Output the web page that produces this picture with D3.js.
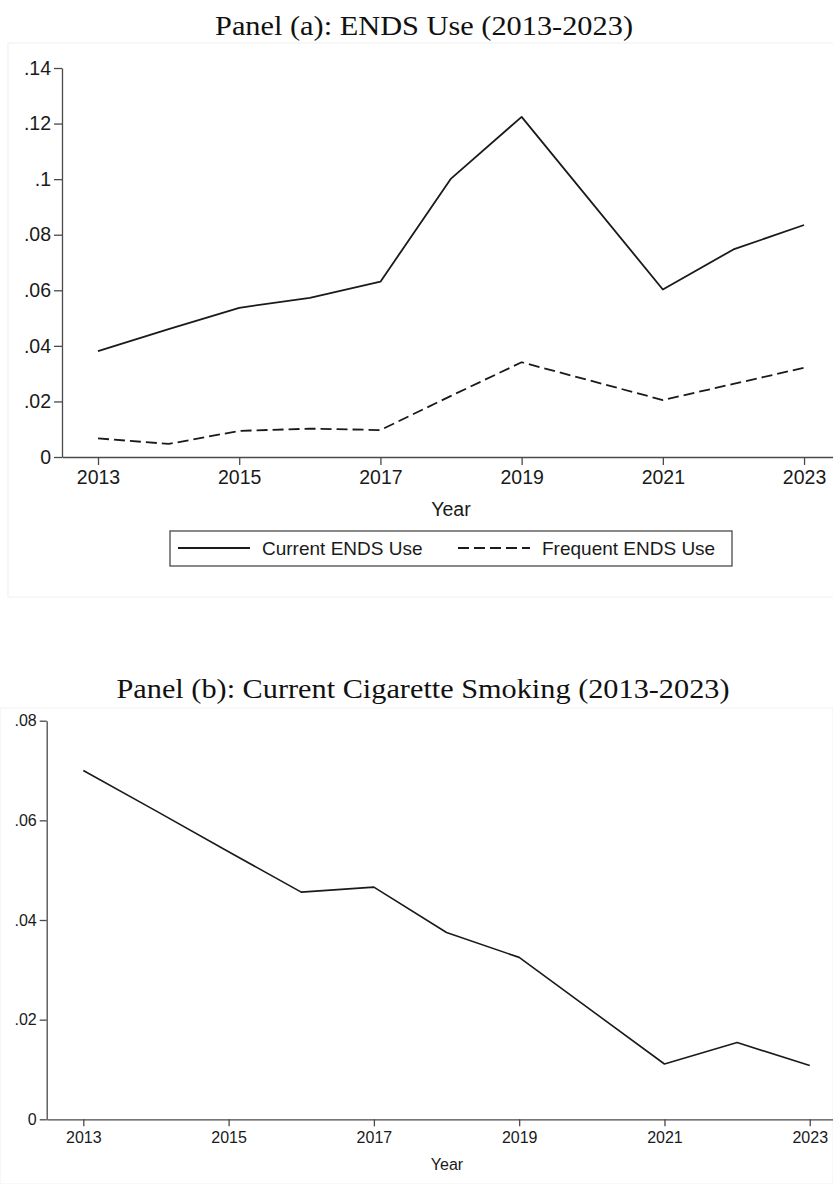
<!DOCTYPE html>
<html>
<head>
<meta charset="utf-8">
<script src="https://cdn.jsdelivr.net/npm/d3@7"></script>
<style>
    body { margin: 0; background: #fff; }
    .eje text { font-family: "Liberation Sans", Arial, sans-serif; fill: #1a1a1a; }
    .eje path, .eje line { stroke: #4a4a4a; stroke-width: 1.3; }
    .titulo { font-family: "Liberation Serif", "Times New Roman", serif; fill: #111; }
</style>
</head>
<body>
<div id="grafica"></div>
<script>
"use strict";

// Panel (a) datos
const anios_a = [2013, 2014, 2015, 2016, 2017, 2018, 2019, 2021, 2022, 2023];
const uso_actual_ends = [0.0381, 0.0460, 0.0537, 0.0573, 0.0631, 0.1002, 0.1224, 0.0603, 0.0747, 0.0835];
const uso_frecuente_ends = [0.0067, 0.0047, 0.0094, 0.0102, 0.0097, 0.0220, 0.0341, 0.0205, 0.0263, 0.0321];
const ticks_y_a = [0, 0.02, 0.04, 0.06, 0.08, 0.10, 0.12, 0.14];

// Panel (b) datos
const anios_b = [2013, 2014, 2015, 2016, 2017, 2018, 2019, 2021, 2022, 2023];
const cigarrillo_actual = [0.0700, 0.0619, 0.0537, 0.0456, 0.0466, 0.0375, 0.0325, 0.0111, 0.0154, 0.0108];
const ticks_y_b = [0, 0.02, 0.04, 0.06, 0.08];

const ticks_x = [2013, 2015, 2017, 2019, 2021, 2023];
const leyenda_a = ["Current ENDS Use", "Frequent ENDS Use"];

const W = 833, H = 1184;

// formato estilo Stata: .14, .1, 0
const fmtStata = (d) => d === 0 ? "0" : String(+d.toFixed(2)).replace(/^0/, "");

const svg = d3.select("#grafica").append("svg")
    .attr("width", W)
    .attr("height", H);

function panel(cfg) {
    // marco tenue
    svg.append("rect")
        .attr("x", cfg.marco[0]).attr("y", cfg.marco[1])
        .attr("width", cfg.marco[2]).attr("height", cfg.marco[3])
        .attr("fill", "none")
        .attr("stroke", "#f0f0f0");

    svg.append("text")
        .attr("class", "titulo")
        .attr("x", cfg.titulo_x)
        .attr("y", cfg.titulo_y)
        .attr("text-anchor", "middle")
        .attr("textLength", cfg.titulo_len)
        .attr("lengthAdjust", "spacingAndGlyphs")
        .style("font-size", cfg.titulo_size + "px")
        .text(cfg.titulo);

    let x = d3.scaleLinear().domain(cfg.dom_x).range(cfg.rango_x);
    let y = d3.scaleLinear().domain(cfg.dom_y).range(cfg.rango_y);

    svg.append("g")
        .attr("class", "eje")
        .attr("transform", "translate(0," + cfg.rango_y[0] + ")")
        .call(d3.axisBottom(x).tickValues(ticks_x).tickFormat(d3.format("d"))
            .tickSize(cfg.tick).tickSizeOuter(0).tickPadding(cfg.pad_x))
        .selectAll("text").style("font-size", cfg.fuente + "px");

    svg.append("g")
        .attr("class", "eje")
        .attr("transform", "translate(" + cfg.rango_x[0] + ",0)")
        .call(d3.axisLeft(y).tickValues(cfg.ticks_y).tickFormat(fmtStata)
            .tickSize(cfg.tick).tickSizeOuter(0).tickPadding(3))
        .selectAll("text").style("font-size", cfg.fuente + "px");

    svg.append("text")
        .attr("class", "eje")
        .attr("x", cfg.year_x)
        .attr("y", cfg.year_y)
        .attr("text-anchor", "middle")
        .style("font-family", "'Liberation Sans', Arial, sans-serif")
        .style("font-size", cfg.fuente + "px")
        .style("fill", "#1a1a1a")
        .text("Year");

    let linea = d3.line()
        .x((d) => x(d[0]))
        .y((d) => y(d[1]));

    cfg.series.forEach(function (s) {
        svg.append("path")
            .datum(d3.zip(s.anios, s.valores))
            .attr("d", linea)
            .attr("fill", "none")
            .attr("stroke", "#1a1a1a")
            .attr("stroke-width", s.ancho)
            .attr("stroke-linejoin", "round")
            .attr("stroke-dasharray", s.guion || null);
    });
}

panel({
    marco: [8, 43, 830, 554],
    titulo: "Panel (a): ENDS Use (2013-2023)",
    titulo_x: 424, titulo_y: 35, titulo_len: 418, titulo_size: 27,
    dom_x: [2012.49, 2023.41], rango_x: [62, 833],
    dom_y: [0, 0.14], rango_y: [457, 68],
    ticks_y: ticks_y_a,
    tick: 8, pad_x: 5, fuente: 19.5,
    year_x: 451, year_y: 516,
    series: [
        { anios: anios_a, valores: uso_actual_ends, ancho: 1.8 },
        { anios: anios_a, valores: uso_frecuente_ends, ancho: 1.8, guion: "11,5" }
    ]
});

// leyenda panel (a)
let leyenda = svg.append("g").attr("class", "leyenda");
leyenda.append("rect")
    .attr("x", 170).attr("y", 531)
    .attr("width", 562).attr("height", 35)
    .attr("fill", "#fff")
    .attr("stroke", "#4a4a4a")
    .attr("stroke-width", 1.3);
const ley_pos = [{ x: 178, guion: null }, { x: 458, guion: "11,5" }];
leyenda.selectAll(".item")
    .data(leyenda_a)
    .enter().append("g")
    .attr("class", "item")
    .attr("transform", (d, i) => "translate(" + ley_pos[i].x + ",548)")
    .each(function (d, i) {
        let g = d3.select(this);
        g.append("line")
            .attr("x1", 0).attr("x2", 72)
            .attr("stroke", "#1a1a1a")
            .attr("stroke-width", 1.8)
            .attr("stroke-dasharray", ley_pos[i].guion);
        g.append("text")
            .attr("x", 84)
            .attr("dy", "0.36em")
            .style("font-family", "'Liberation Sans', Arial, sans-serif")
            .style("font-size", "19px")
            .style("fill", "#1a1a1a")
            .text(d);
    });

panel({
    marco: [0, 708, 833, 476],
    titulo: "Panel (b): Current Cigarette Smoking (2013-2023)",
    titulo_x: 423, titulo_y: 698, titulo_len: 613, titulo_size: 27,
    dom_x: [2012.496, 2023.32], rango_x: [46.7, 833],
    dom_y: [0, 0.08], rango_y: [1119.3, 720.7],
    ticks_y: ticks_y_b,
    tick: 7, pad_x: 5, fuente: 16,
    year_x: 447, year_y: 1170,
    series: [
        { anios: anios_b, valores: cigarrillo_actual, ancho: 1.6 }
    ]
});
</script>
</body>
</html>
